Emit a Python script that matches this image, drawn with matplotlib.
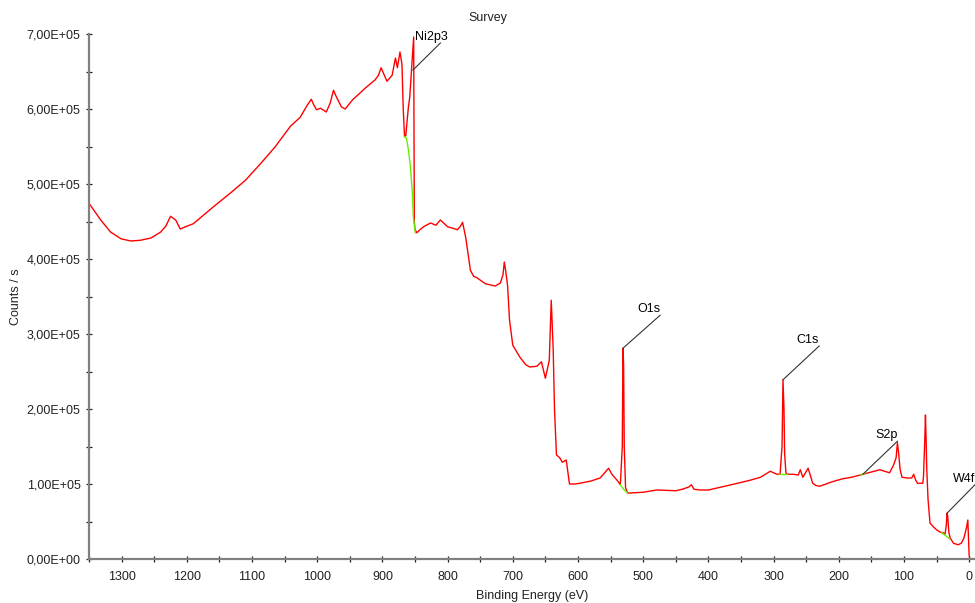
import matplotlib
matplotlib.use("Agg")
import matplotlib.pyplot as plt
from matplotlib.ticker import MultipleLocator, FuncFormatter

plt.rcParams['font.family'] = ['Liberation Sans', 'DejaVu Sans']

# Survey spectrum: binding energy (eV) and counts / s
binding_energy = [1349, 1332, 1317, 1301, 1286, 1271, 1255, 1240, 1232, 1225, 1217, 1210, 1202, 1190,
                  1179, 1160, 1133, 1110, 1087, 1065, 1041, 1026, 1016, 1009, 1005, 1001, 995, 986,
                  980, 975, 971, 963, 957, 946, 926, 911, 906, 902, 893, 885, 880, 877, 873, 870,
                  868, 866, 864, 862, 860, 858, 855, 852, 851, 850, 847, 840, 835, 826, 818, 811,
                  805, 800, 792, 785, 780, 777, 772, 768, 765, 760, 755, 742, 727, 719, 715, 713,
                  711, 708, 705, 700, 689, 680, 674, 663, 656, 650, 644, 641, 638, 636, 633, 628,
                  624, 618, 613, 605, 597, 580, 566, 553, 548, 540, 535, 532, 531, 530, 529, 527,
                  524, 520, 500, 479, 450, 440, 430, 426, 422, 413, 400, 380, 360, 336, 320, 305,
                  295, 290, 287, 285.5, 284, 283, 281, 279, 270, 262, 259, 255, 247, 243, 240, 235,
                  229, 210, 194, 180, 163, 150, 137, 130, 122, 116, 112, 110, 108, 106, 103, 95,
                  88, 85, 82, 79, 73, 71, 70, 68, 67, 66, 65, 63, 60, 55, 50, 45, 40, 37, 35, 34,
                  33, 31, 29, 24, 17, 12, 8, 4, 2, 1, 0, -1]
counts = [4.73e5, 4.52e5, 4.36e5, 4.27e5, 4.24e5, 4.25e5, 4.28e5, 4.36e5, 4.44e5, 4.57e5, 4.52e5, 4.40e5, 4.43e5, 4.47e5,
          4.55e5, 4.69e5, 4.88e5, 5.05e5, 5.27e5, 5.49e5, 5.77e5, 5.89e5, 6.04e5, 6.13e5, 6.05e5, 5.99e5, 6.01e5, 5.96e5,
          6.08e5, 6.25e5, 6.17e5, 6.03e5, 6.00e5, 6.12e5, 6.28e5, 6.39e5, 6.45e5, 6.55e5, 6.37e5, 6.45e5, 6.68e5, 6.55e5, 6.76e5, 6.60e5,
          6.00e5, 5.63e5, 5.65e5, 5.85e5, 6.03e5, 6.16e5, 6.55e5, 6.96e5, 4.50e5, 4.39e5, 4.35e5, 4.41e5, 4.44e5, 4.48e5, 4.45e5, 4.52e5,
          4.47e5, 4.43e5, 4.41e5, 4.39e5, 4.44e5, 4.49e5, 4.28e5, 4.03e5, 3.85e5, 3.77e5, 3.75e5, 3.67e5, 3.64e5, 3.68e5, 3.79e5, 3.96e5,
          3.85e5, 3.65e5, 3.19e5, 2.85e5, 2.69e5, 2.59e5, 2.56e5, 2.57e5, 2.63e5, 2.41e5, 2.65e5, 3.45e5, 2.80e5, 2.00e5, 1.39e5, 1.35e5,
          1.29e5, 1.32e5, 1.00e5, 1.00e5, 1.01e5, 1.04e5, 1.08e5, 1.21e5, 1.13e5, 1.05e5, 0.99e5, 1.50e5, 2.81e5, 2.60e5, 1.50e5, 0.95e5,
          0.88e5, 0.88e5, 0.89e5, 0.92e5, 0.91e5, 0.93e5, 0.96e5, 0.99e5, 0.93e5, 0.92e5, 0.92e5, 0.96e5, 1.00e5, 1.05e5, 1.09e5, 1.17e5,
          1.13e5, 1.13e5, 1.50e5, 2.39e5, 2.00e5, 1.40e5, 1.15e5, 1.13e5, 1.13e5, 1.12e5, 1.19e5, 1.09e5, 1.21e5, 1.10e5, 1.01e5, 0.98e5,
          0.97e5, 1.03e5, 1.07e5, 1.09e5, 1.13e5, 1.16e5, 1.19e5, 1.17e5, 1.15e5, 1.25e5, 1.35e5, 1.55e5, 1.40e5, 1.20e5, 1.09e5, 1.08e5,
          1.08e5, 1.13e5, 1.05e5, 1.01e5, 1.01e5, 1.01e5, 1.10e5, 1.60e5, 1.92e5, 1.60e5, 1.20e5, 0.79e5, 0.48e5, 0.43e5, 0.39e5, 0.36e5, 0.35e5, 0.33e5, 0.45e5, 0.61e5,
          0.58e5, 0.35e5, 0.28e5, 0.21e5, 0.19e5, 0.21e5, 0.28e5, 0.42e5, 0.52e5, 0.30e5, 0.05e5, 0.01e5]

# Backgrounds (green) under the labelled peaks
bg_ni_be = [866, 863, 860, 857, 854, 852.5, 849.5]
bg_ni_counts = [5.63e5, 5.61e5, 5.45e5, 5.23e5, 4.88e5, 4.56e5, 4.35e5]
bg_o_be = [535, 530, 524]
bg_o_counts = [0.99e5, 0.93e5, 0.88e5]
bg_c_be = [291, 279]
bg_c_counts = [1.13e5, 1.13e5]
bg_s_be = [166, 160]
bg_s_counts = [1.12e5, 1.14e5]
bg_w_be = [42, 30]
bg_w_counts = [0.35e5, 0.27e5]

# Peak labels: name, peak (be, counts), leader end (be, counts), text right end (be)
peak_names = ["Ni2p3", "O1s", "C1s", "S2p", "W4f"]
peak_pos = [(853, 6.52e5), (531, 2.81e5), (285.5, 2.39e5), (163, 1.13e5), (34, 0.61e5)]
label_pos = [(811, 6.88e5), (474, 3.25e5), (230, 2.84e5), (110, 1.57e5), (-9, 0.99e5)]
label_text_x = [800, 474, 230, 110, -9]

fig = plt.figure(figsize=(9.75, 6.03), dpi=100)
ax = fig.add_axes([89/975, 44/603, 1 - 89/975, 525/603])

ax.plot(binding_energy, counts, color='#ff0000', lw=1.0, zorder=2)
for bx, by in [(bg_ni_be, bg_ni_counts), (bg_o_be, bg_o_counts), (bg_c_be, bg_c_counts),
               (bg_s_be, bg_s_counts), (bg_w_be, bg_w_counts)]:
    ax.plot(bx, by, color='#66ee00', lw=1.0, zorder=3)

for name, (px, py), (lx, ly), tx in zip(peak_names, peak_pos, label_pos, label_text_x):
    ax.plot([px, lx], [py, ly], color='#333333', lw=0.8, zorder=4, clip_on=False)
    ax.text(tx, ly, name, ha='right', va='bottom', fontsize=9, zorder=5, clip_on=False)

ax.set_xlim(1350, -9)
ax.set_ylim(0, 7e5)

ax.xaxis.set_major_locator(MultipleLocator(100))
ax.xaxis.set_minor_locator(MultipleLocator(50))
ax.yaxis.set_major_locator(MultipleLocator(1e5))
ax.yaxis.set_minor_locator(MultipleLocator(5e4))
ax.yaxis.set_major_formatter(FuncFormatter(lambda v, p: f"{v:.2E}".replace('.', ',')))
ax.xaxis.set_major_formatter(FuncFormatter(lambda v, p: f"{int(round(v))}"))

for s in ['top', 'right']:
    ax.spines[s].set_visible(False)
for s in ['left', 'bottom']:
    ax.spines[s].set_color('#808080')
    ax.spines[s].set_linewidth(1.6)

ax.tick_params(which='both', direction='inout', length=5, width=0.9, color='#222222',
               labelsize=9, labelcolor='#222222')
ax.tick_params(axis='x', pad=6)

ax.set_xlabel("Binding Energy (eV)", fontsize=9, color='#222222', labelpad=5)
fig.text(16/975, 1 - 297/603, "Counts / s", rotation=90, ha='center', va='center',
         fontsize=9, color='#222222')
fig.text(488/975, 1 - 18/603, "Survey", ha='center', va='center', fontsize=9, color='#222222')

fig.savefig("out.png", dpi=100)
